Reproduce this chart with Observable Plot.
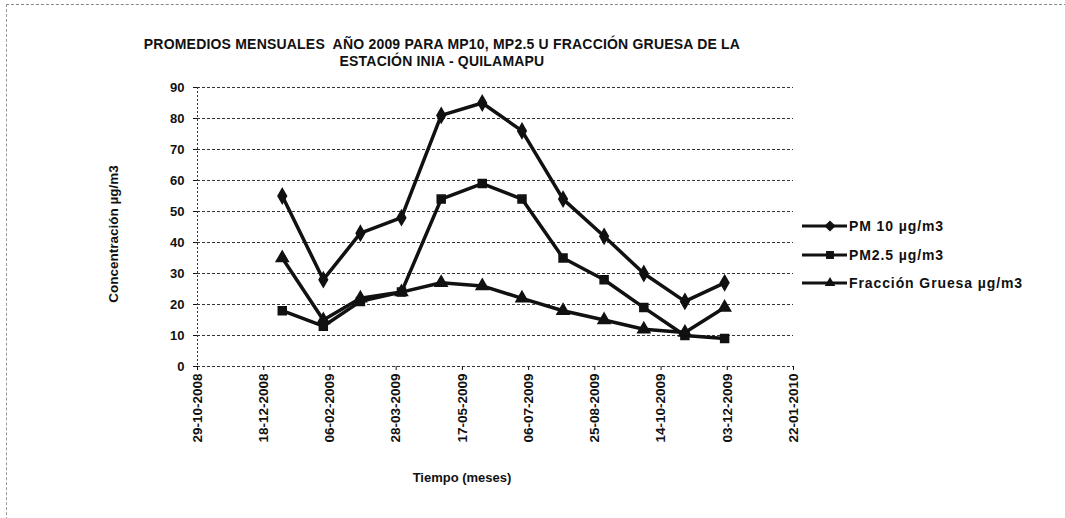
<!DOCTYPE html>
<html><head><meta charset="utf-8">
<script src="https://cdn.jsdelivr.net/npm/d3@7"></script>
<script src="https://cdn.jsdelivr.net/npm/@observablehq/plot@0.6"></script>
<style>
body{margin:0;background:#fff;}
#wrap{position:relative;width:1065px;height:518px;overflow:hidden;font-family:"Liberation Sans",Arial,sans-serif;color:#111;background:#fff;}
#frame{position:absolute;left:6px;top:4px;width:1080px;height:540px;border-top:1px dashed #888;border-left:1px dashed #999;}
#title{position:absolute;left:92px;top:36px;width:700px;text-align:center;font-weight:bold;font-size:14px;line-height:17px;letter-spacing:0.2px;}
#xlab{position:absolute;left:380px;top:470px;width:164px;text-align:center;font-weight:bold;font-size:13px;}
#ylab{position:absolute;left:113px;top:234px;transform:translate(-50%,-50%) rotate(-90deg);white-space:nowrap;font-weight:bold;font-size:13.5px;}
#chart{position:absolute;left:0;top:0;}
.leg{position:absolute;left:800px;height:18px;display:flex;align-items:center;font-weight:bold;font-size:14px;letter-spacing:0.9px;white-space:nowrap;}
.leg svg{margin-right:1px;}
</style></head><body>
<div id="wrap">
<div id="frame"></div>
<div id="chart"></div>
<div id="title">PROMEDIOS MENSUALES&nbsp; AÑO 2009 PARA MP10, MP2.5 U FRACCIÓN GRUESA DE LA<br>ESTACIÓN INIA - QUILAMAPU</div>
<div id="xlab">Tiempo (meses)</div>
<div id="ylab">Concentración µg/m3</div>
<div id="legend"></div>
</div>
<script>
// Data (monthly averages 2009)
const months = ["2009-01-01","2009-02-01","2009-03-01","2009-04-01","2009-05-01","2009-06-01","2009-07-01","2009-08-01","2009-09-01","2009-10-01","2009-11-01","2009-12-01"];
const pm10   = [55, 28, 43, 48, 81, 85, 76, 54, 42, 30, 21, 27];
const pm25   = [18, 13, 21, 24, 54, 59, 54, 35, 28, 19, 10, 9];
const gruesa = [35, 15, 22, 24, 27, 26, 22, 18, 15, 12, 11, 19];
const seriesNames = ["PM 10 µg/m3", "PM2.5 µg/m3", "Fracción Gruesa µg/m3"];
const seriesSymbols = ["diamond", "square", "triangle"];
const xTickDates = ["2008-10-29","2008-12-18","2009-02-06","2009-03-28","2009-05-17","2009-07-06","2009-08-25","2009-10-14","2009-12-03","2010-01-22"];
const yTicks = [0,10,20,30,40,50,60,70,80,90];

const parse = d3.utcParse("%Y-%m-%d");
const seriesValues = [pm10, pm25, gruesa];
const data = [];
seriesValues.forEach((vals, s) => {
  months.forEach((m, i) => data.push({date: parse(m), value: vals[i], series: seriesNames[s]}));
});
const xTicks = xTickDates.map(parse);

const chart = Plot.plot({
  width: 1065, height: 518,
  marginLeft: 197, marginRight: 272, marginTop: 87, marginBottom: 152,
  style: {fontFamily: "Liberation Sans, Arial, sans-serif", fontSize: "12px", fontWeight: "bold", color: "#111", background: "transparent"},
  x: {type: "utc", domain: [xTicks[0], xTicks[xTicks.length - 1]]},
  y: {domain: [0, 90]},
  symbol: {domain: seriesNames, range: seriesSymbols},
  marks: [
    Plot.ruleY(yTicks, {stroke: "#333", strokeWidth: 1, strokeDasharray: "3,2"}),
    Plot.ruleX([xTicks[0]], {stroke: "#333", strokeWidth: 1, strokeDasharray: "2,2"}),
    Plot.axisY({ticks: yTicks, tickSize: 4, tickPadding: 9, label: null, fontSize: 13, fontWeight: "bold"}),
    Plot.axisX({ticks: xTicks, tickFormat: d3.utcFormat("%d-%m-%Y"), tickRotate: -90, tickSize: 4, tickPadding: 3, label: null, fontSize: 13.5, fontWeight: "bold"}),
    Plot.line(data, {x: "date", y: "value", z: "series", stroke: "#111", strokeWidth: 3.5}),
    Plot.dot(data, {x: "date", y: "value", symbol: "series", fill: "#111", stroke: "#111", r: 4.5})
  ]
});
document.getElementById("chart").appendChild(chart);

// Legend
const legTops = [217, 246, 274];
const legend = document.getElementById("legend");
seriesNames.forEach((name, i) => {
  const div = document.createElement("div");
  div.className = "leg";
  div.style.top = legTops[i] + "px";
  const sym = d3.symbol(seriesSymbols[i] === "diamond" ? d3.symbolDiamond2 : seriesSymbols[i] === "square" ? d3.symbolSquare2 : d3.symbolTriangle2, 80)();
  div.innerHTML = `<svg width="48" height="16"><line x1="2" y1="8" x2="47" y2="8" stroke="#111" stroke-width="3"/><path d="${sym}" transform="translate(30,8)" fill="#111"/></svg><span>${name}</span>`;
  legend.appendChild(div);
});
</script>
</body></html>
